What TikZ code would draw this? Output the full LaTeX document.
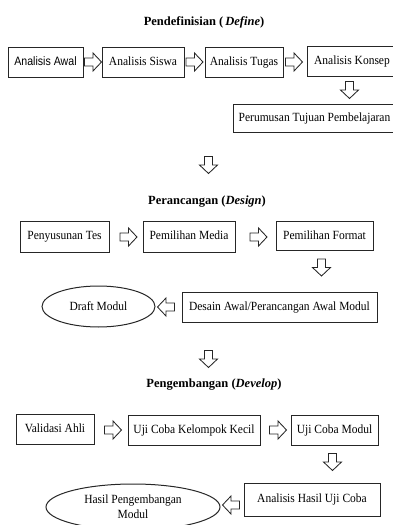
\documentclass[tikz,border=0pt]{standalone}
\usepackage{fontspec}
\setmainfont{Liberation Serif}
\newfontfamily\condserif[FakeStretch=0.92]{Liberation Serif}
\newfontfamily\condsans[FakeStretch=0.87]{Liberation Sans}
\usetikzlibrary{shapes.geometric}
\tikzset{
  box/.style={draw=black!85, line width=1pt, rectangle, inner sep=0pt, align=center,
    text height=8.5pt, text depth=2.5pt,
    font=\condserif\fontsize{12.5}{14}\selectfont},
  oval/.style={draw=black!85, line width=1pt, ellipse, inner sep=0pt, align=center,
    font=\condserif\fontsize{12.5}{15}\selectfont},
  heading/.style={font=\bfseries\fontsize{12.5}{14}\selectfont, inner sep=0pt},
  blockarrow/.pic={
    \draw[black!85, line width=0.85pt, fill=white, line join=miter]
      (-8.5,-4) -- (0,-4) -- (0,-9) -- (8.5,0) -- (0,9) -- (0,4) -- (-8.5,4) -- cycle;
  },
}
\begin{document}
\begin{tikzpicture}[x=1pt,y=-1pt]
\useasboundingbox (0,0) rectangle (393,525);
\clip (0,0) rectangle (393,525);

% ---------- Pendefinisian ----------
\node[heading] (t1) at (204,22) {Pendefinisian (\,\textit{Define})};
\node[box, minimum width=75pt, minimum height=30pt, font=\condsans\fontsize{12.2}{14}\selectfont] (awal) at (45.5,62) {Analisis Awal};
\node[box, minimum width=82pt, minimum height=30pt] (siswa) at (143,62) {Analisis Siswa};
\node[box, minimum width=78pt, minimum height=30pt] (tugas) at (244,62) {Analisis Tugas};
\node[box, minimum width=90pt, minimum height=30pt] (konsep) at (352,61) {Analisis Konsep};
\node[box, minimum width=163pt, minimum height=28pt] (rumus) at (314.5,118) {Perumusan Tujuan Pembelajaran};

\pic at (93,62) {blockarrow};
\pic at (194.5,62) {blockarrow};
\pic at (294,62) {blockarrow};
\pic[rotate=-90] at (349.5,90) {blockarrow};

\pic[rotate=-90] at (208.5,165) {blockarrow};

% ---------- Perancangan ----------
\node[heading] (t2) at (207,202) {Perancangan (\textit{Design})};
\node[box, minimum width=89pt, minimum height=31pt] (tes) at (64.5,236.5) {Penyusunan Tes};
\node[box, minimum width=92pt, minimum height=31pt] (media) at (189,236.5) {Pemilihan Media};
\node[box, minimum width=97pt, minimum height=29pt] (format) at (324.5,236) {Pemilihan Format};
\node[box, minimum width=195pt, minimum height=30pt] (desain) at (279.5,307) {Desain Awal/Perancangan Awal Modul};
\node[oval, minimum width=113pt, minimum height=41pt] (draft) at (98.5,306.5) {Draft Modul};

\pic at (128.5,237) {blockarrow};
\pic at (258.5,237) {blockarrow};
\pic[rotate=-90] at (321.5,267.5) {blockarrow};
\pic[rotate=180] at (166,307) {blockarrow};

\pic[rotate=-90] at (208.5,359) {blockarrow};

% ---------- Pengembangan ----------
\node[heading] (t3) at (214,385) {Pengembangan (\textit{Develop})};
\node[box, minimum width=78pt, minimum height=30pt] (valid) at (55,429.5) {Validasi Ahli};
\node[box, minimum width=132pt, minimum height=30pt] (kecil) at (194,430) {Uji Coba Kelompok Kecil};
\node[box, minimum width=87pt, minimum height=30pt] (modul) at (334.5,430.5) {Uji Coba Modul};
\node[box, minimum width=136pt, minimum height=33pt] (hasil) at (312,499.5) {Analisis Hasil Uji Coba};
\node[oval, minimum width=174pt, minimum height=46pt] (kembang) at (133,507) {Hasil Pengembangan\\Modul};

\pic at (113,430) {blockarrow};
\pic at (278,430) {blockarrow};
\pic[rotate=-90] at (332.5,462) {blockarrow};
\pic[rotate=180] at (231,505) {blockarrow};
\end{tikzpicture}
\end{document}
